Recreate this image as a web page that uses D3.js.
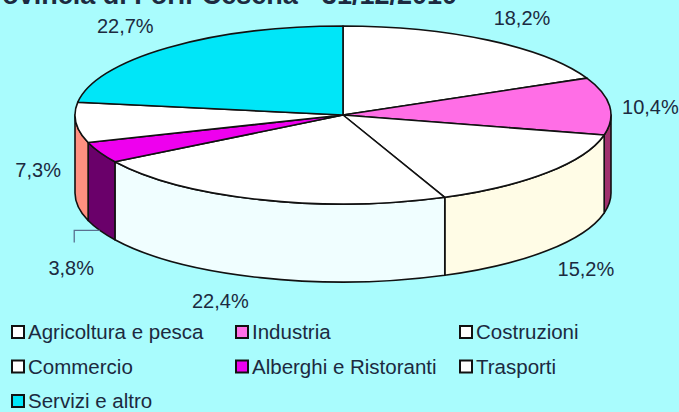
<!DOCTYPE html>
<html>
<head>
<meta charset="utf-8">
<script src="https://cdn.jsdelivr.net/npm/d3@7"></script>
<style>
  html, body { margin: 0; padding: 0; background: #a9fcfd; }
  svg { display: block; }
</style>
</head>
<body>
<svg id="grafico" width="679" height="412"></svg>
<script>
// Dati
const categorie = ["Agricoltura e pesca", "Industria", "Costruzioni", "Commercio",
                   "Alberghi e Ristoranti", "Trasporti", "Servizi e altro"];
const quote = [18.2, 10.4, 15.2, 22.4, 3.8, 7.3, 22.7];
const titolo = "Provincia di Forlì-Cesena - 31/12/2010";

// colori della faccia superiore e del bordo laterale
const coloriTop = ["#ffffff", "#ff6ee6", "#ffffff", "#ffffff", "#ee00ee", "#ffffff", "#00e6f8"];
const coloriLato = ["#e8e8e8", "#a0306e", "#fffce6", "#f0feff", "#6a006a", "#ff9080", "#0099aa"];

// spostamenti delle etichette (come spostate a mano nell'originale)
const spostaEtichetta = [[8, 2], [-7, 4], [2, 0], [-25, -4], [15, 25], [10, -33], [-11, 0]];
const conLinea = [false, false, false, false, true, false, false];

const svg = d3.select("#grafico");
const W = 679, H = 412;
const cx = 343, cy = 115, rx = 268, ry = 89, depth = 78;
const inchiostro = "#1c2a40";

svg.append("rect").attr("width", W).attr("height", H).attr("fill", "#a9fcfd");

// titolo (tagliato in alto come nell'immagine)
svg.append("text")
    .attr("x", 457)
    .attr("y", 4)
    .attr("text-anchor", "end")
    .style("font-family", "'Liberation Sans', Arial, sans-serif")
    .style("font-size", "27px")
    .style("font-weight", "bold")
    .style("fill", inchiostro)
    .text(titolo);

const fmt = d3.formatLocale({decimal: ",", thousands: ".", grouping: [3], currency: ["€", ""]}).format(".1f");

const archi = d3.pie().sort(null).value(d => d)(quote);

function punto(a, dz) {
    return [cx + rx * Math.sin(a), cy - ry * Math.cos(a) + (dz || 0)];
}

// bordo laterale (solo la parte frontale, tra 90° e 270°)
const lati = svg.append("g");
archi.forEach(function (d, i) {
    let a0 = Math.max(d.startAngle, Math.PI / 2);
    let a1 = Math.min(d.endAngle, 3 * Math.PI / 2);
    if (a0 >= a1) return;
    let p0 = punto(a0), p1 = punto(a1);
    let b0 = punto(a0, depth), b1 = punto(a1, depth);
    let path = "M" + p0 + " A" + rx + "," + ry + " 0 0 1 " + p1 +
        " L" + b1 + " A" + rx + "," + ry + " 0 0 0 " + b0 + " Z";
    lati.append("path")
        .attr("d", path)
        .attr("fill", coloriLato[i])
        .attr("stroke", "#111")
        .attr("stroke-width", 1.6)
        .attr("stroke-linejoin", "round");
});

// faccia superiore: cerchio schiacciato in ellisse
const arco = d3.arc().innerRadius(0).outerRadius(rx);
svg.append("g")
    .attr("transform", "translate(" + cx + "," + cy + ") scale(1," + (ry / rx) + ")")
    .selectAll("path")
    .data(archi)
    .enter()
    .append("path")
    .attr("d", arco)
    .attr("fill", (d, i) => coloriTop[i])
    .attr("stroke", "#111")
    .attr("stroke-width", 1.6)
    .attr("stroke-linejoin", "round")
    .attr("vector-effect", "non-scaling-stroke");

// etichette percentuali
archi.forEach(function (d, i) {
    let a = (d.startAngle + d.endAngle) / 2;
    let lx = cx + (rx + 48) * Math.sin(a) + spostaEtichetta[i][0];
    let ly = cy - (ry + 29) * Math.cos(a) + (Math.cos(a) < 0 ? depth : 0) + spostaEtichetta[i][1];

    if (conLinea[i]) {
        let p = punto(a, depth);
        svg.append("path")
            .attr("d", "M" + p + " L" + (lx + 3) + "," + p[1] + " L" + (lx + 3) + "," + (ly - 25))
            .attr("fill", "none")
            .attr("stroke", "#5a7090")
            .attr("stroke-width", 1.3);
    }

    svg.append("text")
        .attr("x", lx)
        .attr("y", ly)
        .attr("dy", "0.35em")
        .attr("text-anchor", "middle")
        .style("font-family", "'Liberation Sans', Arial, sans-serif")
        .style("font-size", "20px")
        .style("fill", inchiostro)
        .text(fmt(d.data) + "%");
});

// legenda: 3 colonne
const legenda = svg.append("g");
categorie.forEach(function (c, i) {
    let col = i % 3, riga = Math.floor(i / 3);
    let g = legenda.append("g")
        .attr("transform", "translate(" + (12 + col * 224) + "," + (326 + riga * 34.5) + ")");
    g.append("rect")
        .attr("width", 12)
        .attr("height", 12)
        .attr("fill", coloriTop[i])
        .attr("stroke", "#111")
        .attr("stroke-width", 2);
    g.append("text")
        .attr("x", 16)
        .attr("y", 13)
        .style("font-family", "'Liberation Sans', Arial, sans-serif")
        .style("font-size", "20.5px")
        .style("fill", inchiostro)
        .text(c);
});
</script>
</body>
</html>
